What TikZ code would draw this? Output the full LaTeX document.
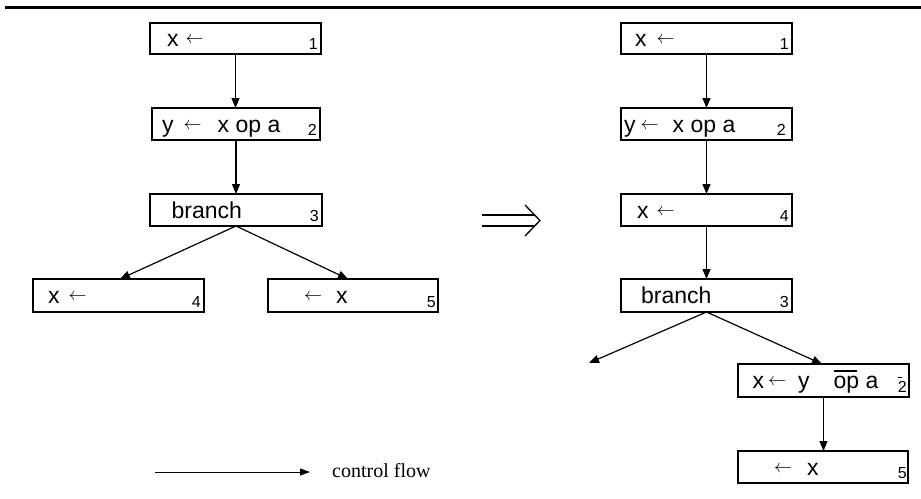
\documentclass[tikz,border=0pt]{standalone}
\usepackage{fontspec}
\setmainfont{Liberation Serif}
\newfontfamily\boxfont{Liberation Sans}
\usetikzlibrary{arrows.meta,calc}
\newcommand\lar{\raisebox{3pt}{\scalebox{1.8}{\normalsize$\leftarrow$}}}
\newcommand\opbar{\makebox[0pt][l]{\rule[17pt]{23pt}{1.3pt}}op}
\newcommand\twobar{\makebox[0pt][l]{\rule[14pt]{4pt}{1.3pt}}2}
\begin{document}
\begin{tikzpicture}[x=1pt,y=-1pt,
  box/.style={draw, line width=1.2pt, minimum width=171pt, minimum height=32pt, inner sep=0pt, outer sep=0pt},
  lbl/.style={font=\boxfont\fontsize{23}{26}\selectfont, anchor=base west, inner sep=0pt},
  sub/.style={font=\boxfont\fontsize{16}{18}\selectfont, anchor=base east, inner sep=0pt},
  flow/.style={line width=1.2pt, -{Triangle[length=10pt,width=8pt]}},
  legendflow/.style={line width=1pt, -{Triangle[length=10pt,width=7pt]}}]
\useasboundingbox (0,0) rectangle (921,498);
% top rule
\draw[line width=3pt] (5,7) -- (921,7);

% ---------- left column ----------
\node[box, minimum height=31pt] (L1) at (235.5,38.5) {};
\node[box, minimum width=168pt] (L2) at (236,124) {};
\node[box, minimum width=172pt] (L3) at (236,210) {};
\node[box, minimum height=33pt] (L4) at (118.5,295.5) {};
\node[box, minimum width=170pt, minimum height=33pt] (L5) at (353,295.5) {};

\node[lbl] (L1t) at (167,46.5) {x\hspace{7pt}\lar};
\node[lbl] (L2t) at (162,132) {y\hspace{10pt}\lar\hspace{16pt}x op a};
\node[lbl] (L3t) at (171.5,218) {branch};
\node[lbl] (L4t) at (48,303.5) {x\hspace{9pt}\lar};
\node[lbl] (L5t) at (304,303.5) {\lar\hspace{14pt}x};

\node[sub] (L1s) at ($(L1.south east)+(-3,-5)$) {1};
\node[sub] (L2s) at ($(L2.south east)+(-3,-5)$) {2};
\node[sub] (L3s) at ($(L3.south east)+(-3,-5)$) {3};
\node[sub] (L4s) at ($(L4.south east)+(-3,-5)$) {4};
\node[sub] (L5s) at ($(L5.south east)+(-2,-5)$) {5};

\draw[flow] (L1.south) -- (L1.south |- L2.north);
\draw[flow] (L2.south) -- (L2.south |- L3.north);
\draw[flow] (L3.south) -- ($(L4.north)+(1.5,0)$);
\draw[flow] (L3.south) -- ($(L5.north)+(-5,0)$);

% ---------- implication arrow ----------
\draw[line width=1.3pt] (482,215) -- (535,215) (482,226) -- (535,226);
\draw[line width=1.3pt, line join=miter] (525,205) -- (540,220.5) -- (525,236);

% ---------- right column ----------
\node[box, minimum height=31pt] (R1) at (706.5,38.5) {};
\node[box] (R2) at (706.5,124) {};
\node[box] (R4) at (706.5,210) {};
\node[box, minimum height=33pt] (R3) at (706.5,295.5) {};
\node[box, minimum height=33pt] (R6) at (823.5,380.5) {};
\node[box, minimum width=170pt] (R5) at (823,467) {};

\node[lbl] (R1t) at (635,46.5) {x\hspace{10pt}\lar};
\node[lbl] (R2t) at (624,132) {y\hspace{5pt}\lar\hspace{14pt}x op a};
\node[lbl] (R4t) at (637,218) {x\hspace{8pt}\lar};
\node[lbl] (R3t) at (641,303.5) {branch};
\node[lbl] (R6t) at (752.5,388.5) {x\hspace{4pt}\lar\hspace{12pt}y\hspace{24pt}\opbar{} a};
\node[lbl] (R5t) at (774,475) {\lar\hspace{15pt}x};

\node[sub] (R1s) at ($(R1.south east)+(-3,-5)$) {1};
\node[sub] (R2s) at ($(R2.south east)+(-6,-5)$) {2};
\node[sub] (R4s) at ($(R4.south east)+(-3,-5)$) {4};
\node[sub] (R3s) at ($(R3.south east)+(-3,-5)$) {3};
\node[sub] (R6s) at ($(R6.south east)+(-2,-5)$) {\twobar};
\node[sub] (R5s) at ($(R5.south east)+(-1,-5)$) {5};

\coordinate (Rfree) at (589,363);
\draw[flow] (R1.south) -- (R2.north);
\draw[flow] (R2.south) -- (R4.north);
\draw[flow] (R4.south) -- (R3.north);
\draw[flow] (R3.south) -- (Rfree);
\draw[flow] (R3.south) -- ($(R6.north)+(-1.5,0)$);
\draw[flow] (R6.south) -- (R6.south |- R5.north);

% ---------- legend ----------
\coordinate (lg1) at (155,472);
\coordinate (lg2) at (310,472);
\draw[legendflow] (lg1) -- (lg2);
\node[anchor=base west, inner sep=0pt, font=\fontsize{20}{24}\selectfont] (lgt) at (332,477) {control flow};
\end{tikzpicture}
\end{document}
